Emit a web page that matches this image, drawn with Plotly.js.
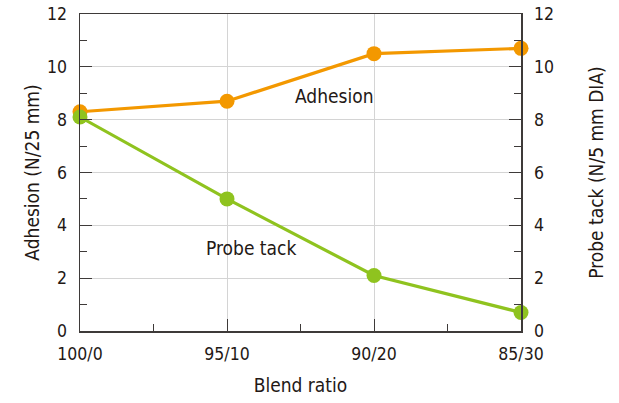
<!DOCTYPE html>
<html><head><meta charset="utf-8">
<script src="https://cdn.plot.ly/plotly-3.0.1.min.js"></script>
<style>html,body{margin:0;padding:0;background:#fff}#c{width:619px;height:403px}</style>
</head><body><div id="c"></div>
<script>
const categories = ['100/0','95/10','90/20','85/30'];
const adhesion = [8.3, 8.7, 10.5, 10.7];
const probeTack = [8.1, 5.0, 2.1, 0.7];
const xPos = categories.map((c,i)=>i);
const FONT = '"DejaVu Sans Condensed", "Liberation Sans Narrow", Arial, sans-serif';
const TXT = '#231815';
const AX = '#3e3a39';
const orange = '#f39800';
const green = '#8fc31f';

const traces = [
  {x:xPos, y:adhesion, type:'scatter', mode:'lines+markers', name:'Adhesion',
   line:{color:orange, width:3.2}, marker:{color:orange, size:15}, cliponaxis:false},
  {x:xPos, y:probeTack, type:'scatter', mode:'lines+markers', name:'Probe tack', yaxis:'y2',
   line:{color:green, width:3.2}, marker:{color:green, size:15}, cliponaxis:false}
];
const yCommon = {range:[0,12], dtick:2, tick0:0, ticks:'inside', ticklen:12, tickcolor:AX, tickwidth:1,
  showline:true, linecolor:AX, linewidth:1.5, zeroline:false,
  tickfont:{family:FONT, size:17.5, color:TXT}, ticklabelstandoff:8,
  minor:{dtick:1, tick0:0, ticks:'inside', ticklen:7, tickcolor:AX, showgrid:false}};
const layout = {
  width:619, height:403, margin:{l:80, r:98, t:14, b:72},
  paper_bgcolor:'#fff', plot_bgcolor:'#fff', showlegend:false,
  xaxis:{range:[0,3], tickvals:xPos, ticktext:categories, ticks:'inside', ticklen:12, tickcolor:AX,
    showline:true, linecolor:AX, linewidth:1.5, mirror:true, showgrid:true, gridcolor:'#d4d4d4', zeroline:false,
    tickfont:{family:FONT, size:17.5, color:TXT}, ticklabelstandoff:6,
    minor:{tickvals:[0.5,1.5,2.5], ticks:'inside', ticklen:7, tickcolor:AX, showgrid:false},
    title:{text:'Blend ratio', font:{family:FONT, size:19, color:TXT}, standoff:16}},
  yaxis:Object.assign({}, yCommon, {showgrid:true, gridcolor:'#d4d4d4',
    title:{text:'Adhesion (N/25 mm)', font:{family:FONT, size:19, color:TXT}, standoff:2}}),
  yaxis2:Object.assign({}, yCommon, {overlaying:'y', side:'right', showgrid:false,
    title:{text:'Probe tack (N/5 mm DIA)', font:{family:FONT, size:19, color:TXT}, standoff:36}}),
  annotations:[
    {x:1.73, y:8.9, xref:'x', yref:'y', text:'Adhesion', showarrow:false, font:{family:FONT, size:19, color:TXT}},
    {x:1.16, y:3.14, xref:'x', yref:'y', text:'Probe tack', showarrow:false, font:{family:FONT, size:19, color:TXT}}
  ]
};
Plotly.newPlot('c', traces, layout, {displayModeBar:false, staticPlot:true});
</script></body></html>
